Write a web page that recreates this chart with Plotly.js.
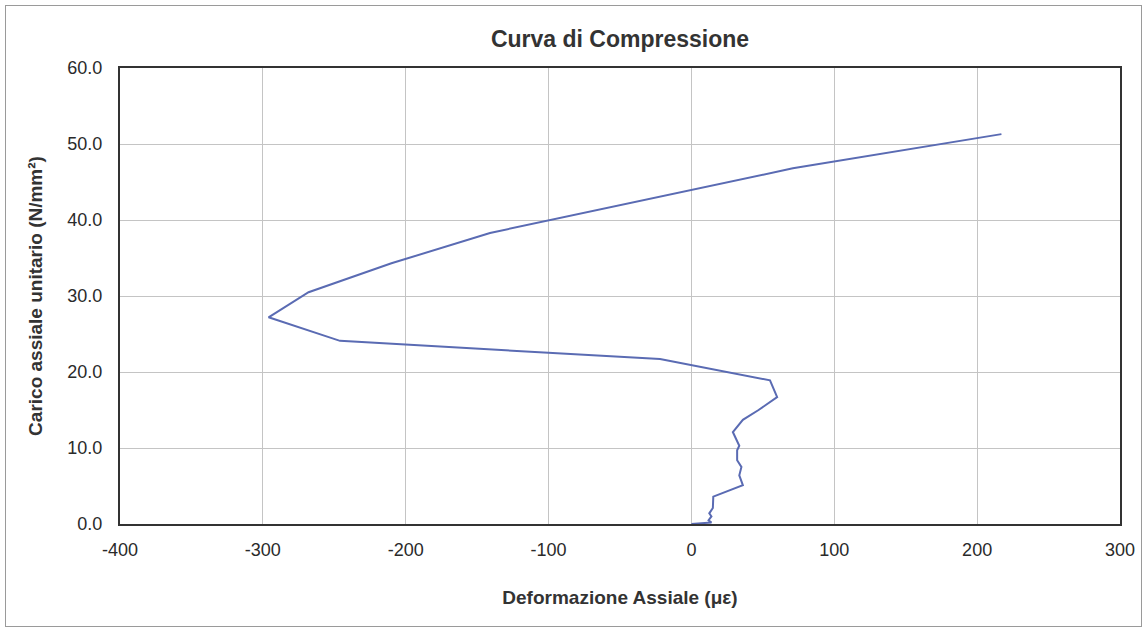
<!DOCTYPE html>
<html>
<head>
<meta charset="utf-8">
<script src="https://cdn.plot.ly/plotly-3.0.1.min.js"></script>
<style>
  html, body { margin: 0; padding: 0; background: #ffffff; }
  #chart { width: 1148px; height: 631px; }
  #frame { position: absolute; left: 5px; top: 5px; width: 1135px; height: 620px; border: 1px solid #9a9a9a; pointer-events: none; }
</style>
</head>
<body>
<div id="chart"></div>
<div id="frame"></div>
<script>
// Deformazione assiale (micro-strain) and carico assiale unitario (N/mm²)
const deformazione = [0, 14, 12, 14, 12.5, 15, 15.3, 36, 33.5, 35, 32, 32, 33.5, 29, 36, 47, 60, 55, -22, -246, -296, -268, -210, -141, 71, 217];
const carico =       [0, 0.2, 0.5, 1.0, 1.4, 2.1, 3.6, 5.1, 6.4, 7.5, 8.4, 9.7, 10.3, 12.1, 13.7, 15.0, 16.7, 18.9, 21.7, 24.1, 27.2, 30.5, 34.3, 38.3, 46.8, 51.3];

const xTicks = [-400, -300, -200, -100, 0, 100, 200, 300];
const yTicks = [0, 10, 20, 30, 40, 50, 60];

const trace = {
  x: deformazione,
  y: carico,
  type: 'scatter',
  mode: 'lines',
  line: { color: '#5a6bb3', width: 2 },
  hoverinfo: 'x+y'
};

const layout = {
  width: 1148,
  height: 631,
  margin: { l: 120, r: 28, t: 68, b: 107 },
  paper_bgcolor: 'rgba(0,0,0,0)',
  plot_bgcolor: '#ffffff',
  showlegend: false,
  font: { family: 'Liberation Sans, Arial, sans-serif', color: '#2a2a2a', size: 18 },
  title: {
    text: '<b>Curva di Compressione</b>',
    font: { family: 'Liberation Sans, Arial, sans-serif', size: 23, color: '#333333' },
    x: 620 / 1148, xanchor: 'center', xref: 'container',
    y: 1 - 39 / 631, yanchor: 'middle', yref: 'container'
  },
  xaxis: {
    range: [-400, 300],
    tickvals: xTicks,
    ticktext: xTicks.map(String),
    showgrid: true,
    gridcolor: '#c4c4c4',
    gridwidth: 1,
    zeroline: false,
    showline: true,
    linecolor: '#333333',
    linewidth: 2,
    mirror: true,
    ticks: 'outside',
    ticklen: 8,
    tickcolor: 'rgba(0,0,0,0)',
    tickfont: { size: 18, color: '#2a2a2a' },
    title: {
      text: '<b>Deformazione Assiale (με)</b>',
      font: { size: 19, color: '#333333' },
      standoff: 32
    },
    automargin: false
  },
  yaxis: {
    range: [0, 60],
    tickvals: yTicks,
    tickformat: '.1f',
    showgrid: true,
    gridcolor: '#c4c4c4',
    gridwidth: 1,
    zeroline: false,
    showline: true,
    linecolor: '#333333',
    linewidth: 2,
    mirror: true,
    ticks: 'outside',
    ticklen: 12,
    tickcolor: 'rgba(0,0,0,0)',
    tickfont: { size: 18, color: '#2a2a2a' },
    title: {
      text: '<b>Carico assiale unitario (N/mm²)</b>',
      font: { size: 19, color: '#333333' },
      standoff: 20
    },
    automargin: false
  }
};

Plotly.newPlot('chart', [trace], layout, { displayModeBar: false, staticPlot: true });
</script>
</body>
</html>
